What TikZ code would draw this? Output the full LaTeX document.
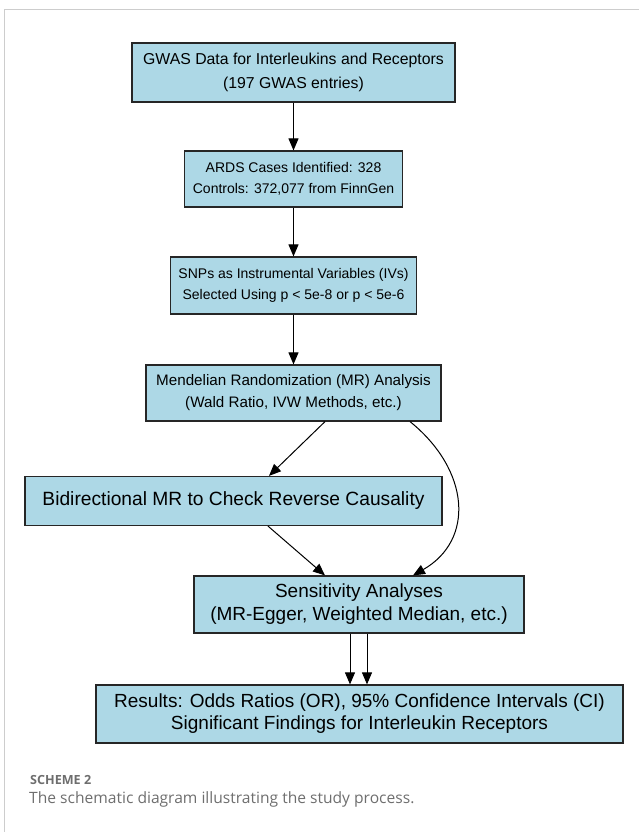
\documentclass[tikz,border=0pt]{standalone}
\usepackage{fontspec}
\setmainfont{Liberation Sans}
\newfontfamily\capfont{Open Sans}
\usetikzlibrary{arrows.meta,positioning}
\definecolor{boxblue}{RGB}{173,216,230}
\definecolor{framegray}{RGB}{205,205,205}
\definecolor{capgray}{RGB}{110,110,110}
\tikzset{
	stepbox/.style={draw=black!85, fill=boxblue, line width=1.2pt, align=center,
		font=\fontsize{15.8}{24}\selectfont, inner xsep=8pt, inner ysep=0pt},
	flow/.style={-{Triangle[length=12pt,width=10pt]}, line width=1pt},
}

\begin{document}
\begin{tikzpicture}[x=1pt,y=1pt]
	\useasboundingbox (0,0) rectangle (639,-832);
	\draw[framegray, line width=1pt] (4,-832) -- (4,-10) -- (639,-10);

	\node[stepbox, minimum width=323pt, minimum height=59pt] (gwas) at (293.5,-72.5)
		{GWAS Data for Interleukins and Receptors\\(197 GWAS entries)};
	\node[stepbox, minimum height=56pt, font=\fontsize{14}{21}\selectfont] (ards) at (293.5,-179)
		{ARDS Cases Identified: 328\\Controls: 372,077 from FinnGen};
	\node[stepbox, minimum height=57pt, font=\fontsize{14}{21}\selectfont] (snps) at (293.5,-285.5)
		{SNPs as Instrumental Variables (IVs)\\Selected Using p < 5e-8 or p < 5e-6};
	\node[stepbox, minimum width=295pt, minimum height=56pt, font=\fontsize{15.2}{22}\selectfont] (mr) at (293.5,-393)
		{Mendelian Randomization (MR) Analysis\\(Wald Ratio, IVW Methods, etc.)};
	\node[stepbox, minimum width=417pt, minimum height=49pt, font=\fontsize{19.2}{22}\selectfont] (bidir) at (233.5,-501)
		{Bidirectional MR to Check Reverse Causality};
	\node[stepbox, minimum width=330pt, minimum height=57pt, font=\fontsize{19}{23}\selectfont] (sens) at (359,-604.5)
		{Sensitivity Analyses\\(MR-Egger, Weighted Median, etc.)};
	\node[stepbox, minimum width=527pt, minimum height=58pt, font=\fontsize{19}{22}\selectfont] (res) at (359.5,-714)
		{Results: Odds Ratios (OR), 95\% Confidence Intervals (CI)\\Significant Findings for Interleukin Receptors};

	\draw[flow] (gwas) -- (ards);
	\draw[flow] (ards) -- (snps);
	\draw[flow] (snps) -- (mr);
	\draw[flow] ([xshift=31.5pt]mr.south) -- ([xshift=35.5pt]bidir.north);
	\draw[flow] ([xshift=116.5pt]mr.south) .. controls (470,-470) and (475,-540) .. ([xshift=54pt]sens.north);
	\draw[flow] ([xshift=34.5pt]bidir.south) -- ([xshift=-34pt]sens.north);
	\draw[flow] ([xshift=-9pt]sens.south) -- ([xshift=-9.5pt]res.north);
	\draw[flow] ([xshift=8pt]sens.south) -- ([xshift=7.5pt]res.north);

	\node[anchor=base west, inner sep=0pt, text=capgray, font=\capfont\bfseries\fontsize{12.6}{14}\selectfont] (schemelbl) at (30,-784) {SCHEME 2};
	\node[anchor=base west, inner sep=0pt, text=capgray, font=\capfont\fontsize{15.6}{18}\selectfont] (caption) at (29,-803.5) {The schematic diagram illustrating the study process.};
\end{tikzpicture}
\end{document}
